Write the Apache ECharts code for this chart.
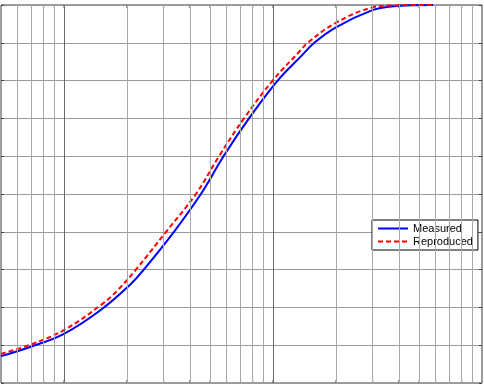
<!DOCTYPE html>
<html>
<head>
<meta charset="utf-8">
<script src="https://cdn.jsdelivr.net/npm/echarts@6/dist/echarts.min.js"></script>
<style>
  html, body { margin: 0; padding: 0; background: #fff; }
  #chart { width: 484px; height: 387px; }
</style>
</head>
<body>
<div id="chart"></div>
<script>
// values (x is log scale)
const measuredX = [5, 6.95, 10, 15.0, 20.9, 24.1, 33.6, 45.2, 58.0, 76.8, 105.3, 136, 157.6, 200, 301, 367, 457, 583]
const measuredY = [0.071, 0.096, 0.130, 0.193, 0.262, 0.300, 0.400, 0.500, 0.600, 0.700, 0.800, 0.864, 0.900, 0.941, 0.987, 0.996, 0.9995, 1.0]

const reproducedX = [5, 6.95, 10, 15.0, 18.1, 22.1, 30.8, 42.8, 55.2, 72.7, 99.7, 136, 146.6, 200, 301, 367, 583]
const reproducedY = [0.077, 0.102, 0.140, 0.206, 0.246, 0.300, 0.400, 0.500, 0.600, 0.700, 0.800, 0.881, 0.900, 0.953, 0.994, 0.9987, 1.0]

const majorX = [10, 100]
const minorX = [6, 7, 8, 9, 20, 30, 40, 50, 60, 70, 80, 90, 200, 300, 400, 500, 600, 700, 800, 900]

const pairs = (xs, ys) => xs.map((x, i) => [x, ys[i]])

const chart = echarts.init(document.getElementById('chart'))

const gridLines = [
  ...minorX.map((x) => ({ xAxis: x, lineStyle: { color: '#a8a8a8', width: 1, type: 'solid' } })),
  ...majorX.map((x) => ({ xAxis: x, lineStyle: { color: '#6a6a6a', width: 1, type: 'solid' } })),
]

// small inward ticks at top and bottom of every vertical grid line
const allX = [...minorX, ...majorX]
const tickData = [
  ...allX.map((x) => ({ value: [x, 0], symbolOffset: [0, -1.5] })),
  ...allX.map((x) => ({ value: [x, 1], symbolOffset: [0, 1.5] })),
]

const yAxisBase = {
  type: 'value',
  min: 0,
  max: 1,
  interval: 0.1,
  axisLine: { show: false },
  axisLabel: { show: false },
  axisTick: { show: true, inside: true, length: 3, lineStyle: { color: '#444' } },
}

chart.setOption({
  animation: false,
  backgroundColor: '#ffffff',
  grid: {
    left: 1,
    right: 2,
    top: 5,
    bottom: 4,
    show: true,
    borderColor: '#3a3a3a',
    borderWidth: 1,
    backgroundColor: 'transparent',
  },
  legend: {
    data: ['Measured', 'Reproduced'],
    orient: 'vertical',
    left: 372,
    top: 220,
    padding: [3, 5, 3, 5],
    itemWidth: 30,
    itemHeight: 12,
    itemGap: 2,
    itemStyle: { opacity: 0 },
    backgroundColor: '#ffffff',
    borderColor: '#000000',
    borderWidth: 1,
    borderRadius: 0,
    textStyle: { fontFamily: 'Liberation Sans, Arial', fontSize: 11, color: '#000' },
  },
  xAxis: {
    type: 'log',
    logBase: 10,
    min: 5,
    max: 1000,
    axisLine: { show: false },
    axisLabel: { show: false },
    axisTick: { show: false },
    splitLine: { show: false },
  },
  yAxis: [
    {
      ...yAxisBase,
      position: 'left',
      splitLine: { show: true, lineStyle: { color: '#9a9a9a', width: 1 } },
    },
    {
      ...yAxisBase,
      position: 'right',
      splitLine: { show: false },
    },
  ],
  series: [
    {
      name: 'grid',
      type: 'scatter',
      z: 1,
      silent: true,
      symbol: 'rect',
      symbolSize: [1, 3],
      itemStyle: { color: '#444' },
      data: tickData,
      markLine: {
        silent: true,
        symbol: 'none',
        label: { show: false },
        data: gridLines,
      },
    },
    {
      name: 'Measured',
      type: 'line',
      z: 3,
      smooth: 0.4,
      symbol: 'none',
      lineStyle: { color: '#0000ff', width: 2 },
      itemStyle: { color: '#0000ff' },
      data: pairs(measuredX, measuredY),
    },
    {
      name: 'Reproduced',
      type: 'line',
      z: 4,
      smooth: 0.4,
      symbol: 'none',
      lineStyle: { color: '#ff0000', width: 2, type: [5, 3] },
      itemStyle: { color: '#ff0000' },
      data: pairs(reproducedX, reproducedY),
    },
  ],
})
</script>
</body>
</html>
